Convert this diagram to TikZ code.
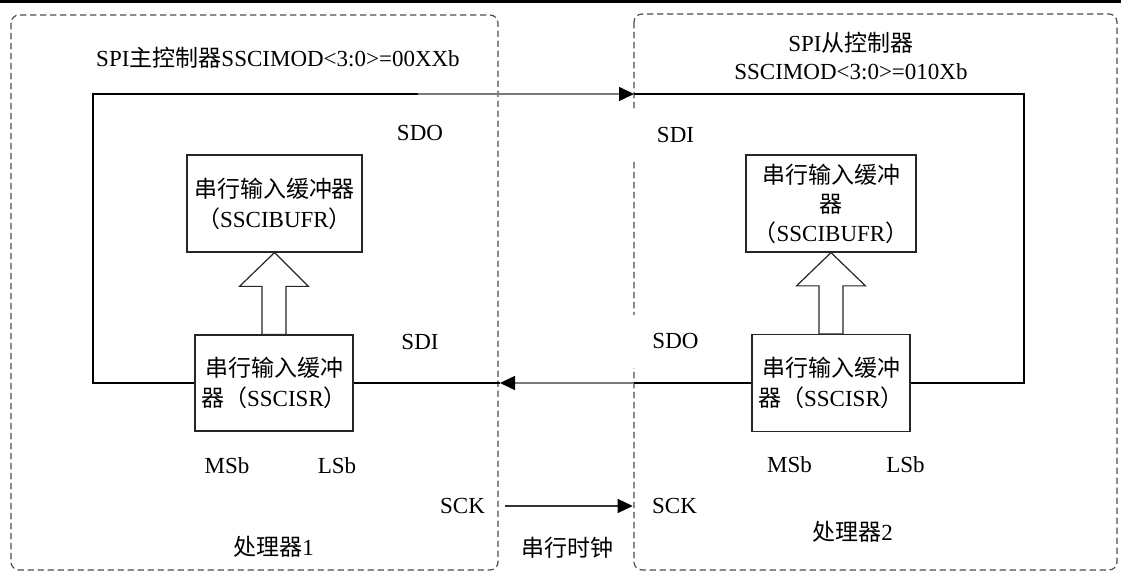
\documentclass[tikz,border=0pt]{standalone}
\usepackage{fontspec}
\setmainfont{Liberation Serif}
\newfontfamily\cjk{Noto Sans CJK SC}
\usepackage{tikz}
\usetikzlibrary{arrows.meta,positioning,calc}
\definecolor{wiregray}{HTML}{7A7A7A}
\definecolor{framegray}{HTML}{4D4D4D}
\newcommand{\zh}[1]{{\cjk #1}}
% hollow transfer arrow from a shift register up to its buffer
\newcommand{\xferarrow}[2]{%
  \draw[hollow] ($(#1.north)+(-12,0)$) -- ($(#1.north)+(-12,-48)$)
    -- ($(#1.north)+(-34.5,-48)$) -- (#2.south) -- ($(#1.north)+(34.5,-48)$)
    -- ($(#1.north)+(12,-48)$) -- ($(#1.north)+(12,0)$) -- cycle;}

\begin{document}
\begin{tikzpicture}[x=0.5pt,y=-0.5pt,font=\fontsize{11.5}{15}\selectfont,
  blk/.style={rectangle,draw=black!85,line width=0.6pt,align=center,inner sep=2pt},
  lbl/.style={inner sep=1pt},
  pinlbl/.style={fill=white,inner sep=1pt,minimum width=50pt},
  proc/.style={draw=framegray,dash pattern=on 3.2pt off 1.8pt,rounded corners=4pt,line width=0.6pt},
  wire/.style={line width=1pt,black},
  link/.style={line width=0.75pt,wiregray,-{Triangle[length=7.5pt,width=7pt,black]}},
  hollow/.style={draw=black!85,line width=0.6pt,fill=white}]
  \useasboundingbox (0,0) rectangle (1121,572);
  \draw[line width=1.5pt] (0,2) -- (1121,2);
  % the two processors
  \draw[proc] (11,15) rectangle (498,570);
  \draw[proc] (634,14) rectangle (1117,570);
  \node[lbl] (titleM) at (278,58) {SPI\zh{主控制器}SSCIMOD<3:0>=00XXb};
  \node[lbl,align=center,font=\fontsize{11.5}{14}\selectfont] (titleS) at (851,56)
    {SPI\zh{从控制器}\\SSCIMOD<3:0>=010Xb};
  % buffers and shift registers
  \node[blk,minimum width=87.5pt,minimum height=48.5pt] (bufM) at (274.5,203.5)
    {\zh{串行输入缓冲器}\\\zh{（}SSCIBUFR\zh{）}};
  \node[blk,minimum width=85pt,minimum height=48.5pt,font=\fontsize{11.5}{14.5}\selectfont] (bufS) at (831,203.5)
    {\zh{串行输入缓冲}\\\zh{器}\\\zh{（}SSCIBUFR\zh{）}};
  \node[blk,minimum width=79pt,minimum height=48pt] (srM) at (274,383)
    {\zh{串行输入缓冲}\\\zh{器（}SSCISR\zh{）}};
  \node[blk,minimum width=79pt,minimum height=48.5pt] (srS) at (831,383)
    {\zh{串行输入缓冲}\\\zh{器（}SSCISR\zh{）}};
  \xferarrow{srM}{bufM}
  \xferarrow{srS}{bufS}
  % pin names
  \node[lbl] (sdoM) at (420,133) {SDO};
  \node[lbl] (sdiM) at (420,342) {SDI};
  \node[pinlbl,minimum height=25pt] (sdiS) at (675.5,135) {SDI};
  \node[pinlbl,minimum height=26.5pt] (sdoS) at (675.5,341.5) {SDO};
  \node[lbl] (msbM) at (227,466) {MSb};
  \node[lbl] (lsbM) at (337,466) {LSb};
  \node[lbl] (msbS) at (789.5,465) {MSb};
  \node[lbl] (lsbS) at (905.5,465) {LSb};
  \node[lbl] (sckM) at (462.5,506) {SCK};
  \node[lbl] (sckS) at (674.5,506) {SCK};
  \node[lbl] (cpu1) at (273.5,547) {\zh{处理器}1};
  \node[lbl] (clk) at (567.5,548) {\zh{串行时钟}};
  \node[lbl] (cpu2) at (852.5,532) {\zh{处理器}2};
  % data loop
  \coordinate (cornM) at (93,94);
  \coordinate (gapM) at (418,94);
  \coordinate (inS) at (634,94);
  \coordinate (cornS) at (1024,383);
  \coordinate (outS) at (634,383);
  \coordinate (inM) at (500,383);
  \draw[wire] (srM.west) -| (cornM) -- (gapM);
  \draw[link] (gapM) -- (inS);
  \draw[wire] (inS) -| (cornS) -- (srS.east);
  \draw[wire] (srS.west) -- (outS);
  \draw[link] (outS) -- (inM);
  \draw[wire] (inM) -- (srM.east);
  \draw[link,black!80,line width=0.6pt,shorten <=9pt,shorten >=8.5pt] (sckM.east) -- (sckS.west);
\end{tikzpicture}
\end{document}
